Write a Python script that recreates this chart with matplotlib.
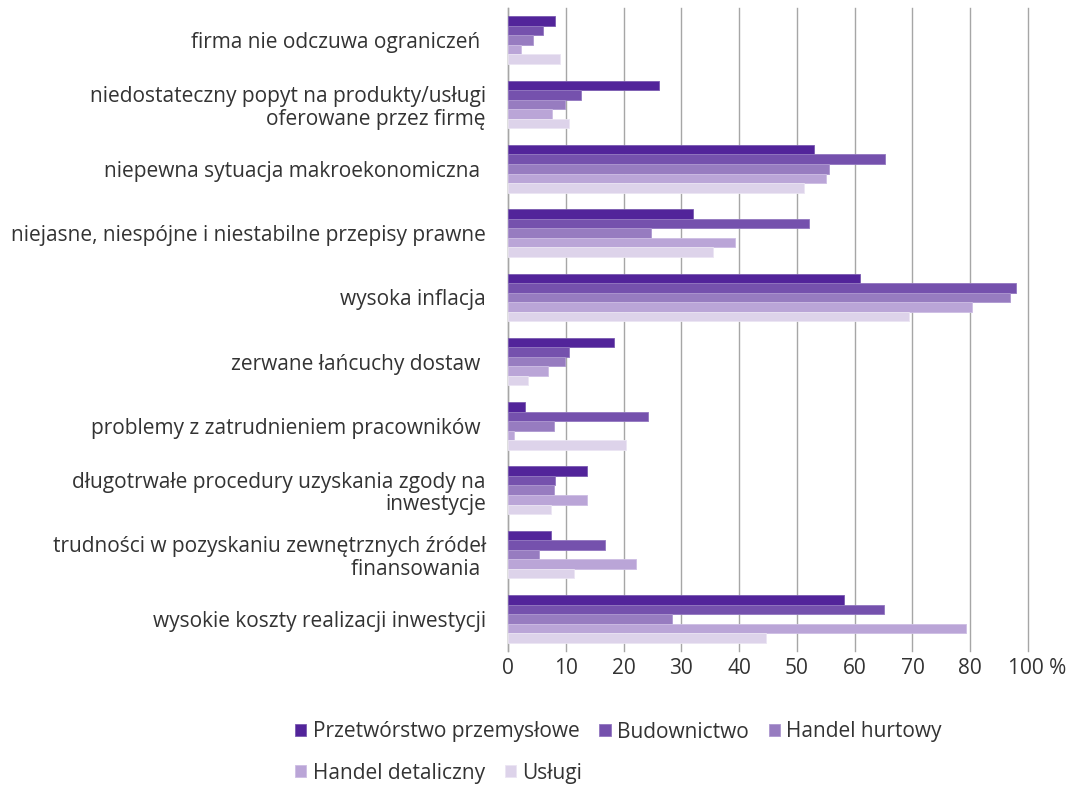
import numpy as np
import matplotlib
matplotlib.use('Agg')
import matplotlib.pyplot as plt
import matplotlib.transforms as mtransforms
from matplotlib.patches import Patch

plt.rcParams['font.family'] = ['Open Sans', 'DejaVu Sans']

#### data (values in %)
categories = [
    'firma nie odczuwa ograniczeń ',
    'niedostateczny popyt na produkty/usługi\noferowane przez firmę',
    'niepewna sytuacja makroekonomiczna ',
    'niejasne, niespójne i niestabilne przepisy prawne',
    'wysoka inflacja',
    'zerwane łańcuchy dostaw ',
    'problemy z zatrudnieniem pracowników ',
    'długotrwałe procedury uzyskania zgody na\ninwestycje',
    'trudności w pozyskaniu zewnętrznych źródeł\nfinansowania ',
    'wysokie koszty realizacji inwestycji',
]
series = ['Przetwórstwo przemysłowe', 'Budownictwo', 'Handel hurtowy',
          'Handel detaliczny', 'Usługi']
przetworstwo = [8.2, 26.2, 52.9, 32.0, 60.9, 18.4, 3.0, 13.6, 7.5, 58.2]
budownictwo  = [6.1, 12.6, 65.2, 52.1, 87.9, 10.6, 24.3, 8.1, 16.8, 65.1]
hurtowy      = [4.4, 9.8, 55.5, 24.8, 86.9, 9.8, 7.9, 8.0, 5.3, 28.4]
detaliczny   = [2.2, 7.7, 55.1, 39.3, 80.3, 7.0, 1.0, 13.7, 22.1, 79.3]
uslugi       = [9.0, 10.5, 51.2, 35.5, 69.4, 3.5, 20.4, 7.5, 11.4, 44.7]
xticks = [0, 10, 20, 30, 40, 50, 60, 70, 80, 90]
xticklabels = ['0', '10', '20', '30', '40', '50', '60', '70', '80', '100 %']

colors = ['#52249a', '#7551ad', '#977cc0', '#baa5d7', '#ddd3ea']
edges = ['#7a5bb0', '#9277c0', '#ad97d0', '#cdbde4', '#ebe5f3']
######

data = [przetworstwo, budownictwo, hurtowy, detaliczny, uslugi]
ncat = len(categories)
nser = len(series)
y = np.arange(ncat)
bh = 0.148

fig = plt.figure(figsize=(10.75, 7.85), dpi=100)
ax = fig.add_axes([508/1075, 1-651/785, 520/1075, 643/785])

for i, vals in enumerate(data):
    ax.barh(y - 2*bh + i*bh, vals, height=bh, color=colors[i],
            edgecolor=edges[i], linewidth=0.6, label=series[i], zorder=3)

ax.set_xlim(0, 90)
ax.set_ylim(ncat - 0.5, -0.5)
ax.set_xticks(xticks)
ax.set_xticklabels(xticklabels)
ax.set_yticks(y)
ax.set_yticklabels(categories, linespacing=1.1)
ax.xaxis.grid(True, color='#a6a6a6', linewidth=1.0, zorder=0)
for gl in ax.xaxis.get_gridlines():
    gl.set_clip_on(False)
for s in ['top', 'right', 'bottom']:
    ax.spines[s].set_visible(False)
ax.spines['left'].set_color('#a6a6a6')
ax.spines['left'].set_linewidth(1.0)
ax.tick_params(axis='y', length=0, pad=16, labelsize=15, labelcolor='#333333')
ax.tick_params(axis='x', length=0, pad=5, labelsize=15, labelcolor='#333333')
# the "100 %" label sits a little to the right of its tick
lab = ax.get_xticklabels()[-1]
lab.set_transform(lab.get_transform() + mtransforms.ScaledTranslation(9/100, 0, fig.dpi_scale_trans))

# legend: two rows, left-aligned like the original
h = [Patch(facecolor=colors[i], edgecolor=edges[i], linewidth=0.6) for i in range(nser)]
kw = dict(frameon=False, fontsize=15, handlelength=0.55, handleheight=0.55,
          handletextpad=0.3, columnspacing=0.95, borderaxespad=0, borderpad=0,
          labelcolor='#333333', loc='center left')
leg1 = fig.legend(h[:3], series[:3], ncol=3, bbox_to_anchor=(295/1075, 1-732/785), **kw)
leg2 = fig.legend(h[3:], series[3:], ncol=2, bbox_to_anchor=(295/1075, 1-773/785), **kw)

fig.savefig('out.png', dpi=100)
